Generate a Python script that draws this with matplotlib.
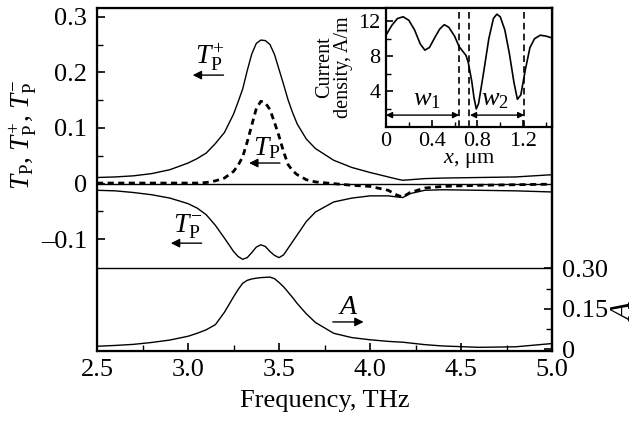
import matplotlib
matplotlib.use("Agg")
import matplotlib.pyplot as plt
from matplotlib.ticker import FixedLocator

plt.rcParams["font.family"] = ["Liberation Serif", "DejaVu Serif"]
plt.rcParams["mathtext.fontset"] = "custom"
plt.rcParams["mathtext.rm"] = "Liberation Serif"
plt.rcParams["mathtext.it"] = "Liberation Serif:italic"
plt.rcParams["font.size"] = 19

# main panel: frequency in THz
freq = [2.5, 2.6, 2.7, 2.8, 2.9, 3.0, 3.05, 3.1, 3.15, 3.2, 3.25, 3.275,
        3.3, 3.325, 3.35, 3.375, 3.4, 3.425, 3.45, 3.475, 3.5, 3.525, 3.55,
        3.575, 3.6, 3.65, 3.7, 3.8, 3.9, 4.0, 4.1, 4.15, 4.18, 4.22, 4.3,
        4.4, 4.6, 4.8, 5.0]
t_plus = [0.011, 0.012, 0.014, 0.018, 0.025, 0.037, 0.045, 0.055, 0.072,
          0.092, 0.125, 0.147, 0.170, 0.203, 0.233, 0.252, 0.258, 0.257,
          0.250, 0.232, 0.205, 0.178, 0.150, 0.127, 0.107, 0.080, 0.063,
          0.042, 0.029, 0.020, 0.012, 0.008, 0.006, 0.007, 0.009, 0.010,
          0.011, 0.012, 0.016]
t_p = [0.001, 0.001, 0.001, 0.001, 0.001, 0.001, 0.001, 0.002, 0.005, 0.010,
       0.022, 0.033, 0.048, 0.075, 0.105, 0.135, 0.148, 0.145, 0.133, 0.110,
       0.085, 0.057, 0.034, 0.023, 0.016, 0.007, 0.003, 0.000, -0.003,
       -0.005, -0.012, -0.021, -0.024, -0.016, -0.008, -0.005, -0.003,
       -0.002, -0.001]
t_minus = [-0.012, -0.013, -0.016, -0.020, -0.026, -0.036, -0.044, -0.056,
           -0.075, -0.098, -0.122, -0.131, -0.136, -0.133, -0.124, -0.114,
           -0.110, -0.113, -0.122, -0.129, -0.133, -0.128, -0.116, -0.104,
           -0.092, -0.068, -0.051, -0.033, -0.026, -0.022, -0.022, -0.024,
           -0.025, -0.018, -0.012, -0.011, -0.012, -0.013, -0.015]
absorb = [0.012, 0.015, 0.019, 0.026, 0.035, 0.049, 0.060, 0.073, 0.092,
          0.138, 0.195, 0.222, 0.245, 0.256, 0.261, 0.264, 0.266, 0.267,
          0.268, 0.262, 0.248, 0.232, 0.212, 0.192, 0.170, 0.132, 0.100,
          0.060, 0.044, 0.036, 0.030, 0.028, 0.027, 0.024, 0.018, 0.013,
          0.008, 0.010, 0.022]

# inset: current density along x
x_um = [0.0, 0.05, 0.10, 0.15, 0.20, 0.25, 0.30, 0.34, 0.38, 0.43, 0.47,
        0.51, 0.55, 0.60, 0.64, 0.67, 0.70, 0.72, 0.75, 0.77, 0.79, 0.81,
        0.85, 0.90, 0.94, 0.97, 1.00, 1.04, 1.08, 1.12, 1.15, 1.18, 1.22,
        1.26, 1.30, 1.35, 1.40, 1.45]
current = [10.4, 11.5, 12.3, 12.5, 12.1, 11.0, 9.4, 8.7, 9.0, 10.2, 11.1,
           11.6, 11.3, 10.3, 9.1, 8.6, 8.1, 7.3, 5.2, 3.3, 2.0, 2.6, 5.8,
           10.0, 12.3, 12.8, 12.5, 11.0, 8.3, 5.0, 3.1, 3.6, 6.5, 9.0, 10.0,
           10.4, 10.3, 10.1]
w_bounds = [0.64, 0.727, 1.21]

fig = plt.figure(figsize=(6.43, 4.21), dpi=100)
ax = fig.add_axes([0.151, 0.166, 0.7075, 0.815])

ax.plot(freq, t_plus, color="k", lw=1.0)
ax.plot(freq, t_p, color="k", lw=2.0, dashes=(2.2, 1.6))
ax.plot(freq, t_minus, color="k", lw=1.0)
ax.axhline(0, color="k", lw=1.0)
ax.axhline(-0.152, color="k", lw=1.0)

ax.set_xlim(2.5, 5.0)
ax.set_ylim(-0.301, 0.3156)
ax.set_xticks([2.5, 3.0, 3.5, 4.0, 4.5, 5.0])
ax.set_xticklabels(["2.5", "3.0", "3.5", "4.0", "4.5", "5.0"])
ax.xaxis.set_minor_locator(FixedLocator([2.75, 3.25, 3.75, 4.25, 4.75]))
ax.set_yticks([-0.1, 0, 0.1, 0.2, 0.3])
ax.set_yticklabels(["\u20130.1", "0", "0.1", "0.2", "0.3"])
ax.yaxis.set_minor_locator(FixedLocator([-0.05, 0.05, 0.15, 0.25]))
ax.tick_params(which="both", direction="in", top=False, right=False)
ax.tick_params(which="major", length=6, width=1.2)
ax.tick_params(which="minor", length=4, width=1.0)
ax.tick_params(axis="x", which="major", pad=6)
ax.tick_params(axis="y", which="major", pad=7)
for s in ax.spines.values():
    s.set_linewidth(1.6)
ax.set_xlabel("Frequency, THz", labelpad=6)
ax.set_ylabel(r"$T_{\rm P}$, $T_{\rm P}^{+}$, $T_{\rm P}^{-}$", fontsize=19.5)
ax.yaxis.set_label_coords(-0.128, 0.63)

ax2 = ax.twinx()
ax2.plot(freq, absorb, color="k", lw=1.0)
ax2.set_ylim(-0.006, 1.264)
ax2.set_yticks([0, 0.15, 0.30])
ax2.set_yticklabels(["0", "0.15", "0.30"])
ax2.yaxis.set_minor_locator(FixedLocator([0.075, 0.225]))
ax2.tick_params(which="both", direction="in", pad=7)
ax2.tick_params(which="major", length=6, width=1.2)
ax2.tick_params(which="minor", length=4, width=1.0)
ax2.spines["right"].set_linewidth(1.6)
ax2.set_ylabel(r"$A$", rotation=90, fontsize=21)
ax2.yaxis.set_label_coords(1.127, 0.12)

arrow = dict(arrowstyle="-|>", color="k", lw=1.0, mutation_scale=13)
ax.annotate("", xy=(3.01, 0.195), xytext=(3.21, 0.195), arrowprops=arrow)
ax.text(3.12, 0.199, r"$T_{\rm P}^{+}$", ha="center", va="bottom", fontsize=20)
ax.annotate("", xy=(3.32, 0.037), xytext=(3.52, 0.037), arrowprops=arrow)
ax.text(3.43, 0.041, r"$T_{\rm P}$", ha="center", va="bottom", fontsize=20)
ax.annotate("", xy=(2.89, -0.107), xytext=(3.09, -0.107), arrowprops=arrow)
ax.text(3.0, -0.103, r"$T_{\rm P}^{-}$", ha="center", va="bottom", fontsize=20)
ax2.annotate("", xy=(3.98, 0.102), xytext=(3.78, 0.102), arrowprops=arrow)
ax2.text(3.88, 0.108, r"$A$", ha="center", va="bottom", fontsize=20)

ins = fig.add_axes([0.6003, 0.6995, 0.2582, 0.2815])
ins.set_facecolor("white")
ins.plot(x_um, current, color="k", lw=1.2)
for xb in w_bounds:
    ins.axvline(xb, color="k", lw=1.2, dashes=(4, 2.5))
both = dict(arrowstyle="<|-|>", color="k", lw=1.0, mutation_scale=9,
            shrinkA=0, shrinkB=0)
ins.annotate("", xy=(0.0, 1.3), xytext=(w_bounds[0], 1.3), arrowprops=both)
ins.annotate("", xy=(0.735, 1.3), xytext=(w_bounds[2], 1.3), arrowprops=both)
ins.text(0.36, 1.8, r"$w_1$", ha="center", va="bottom", fontsize=19)
ins.text(0.95, 1.8, r"$w_2$", ha="center", va="bottom", fontsize=19)
ins.set_xlim(0, 1.453)
ins.set_ylim(0, 13.5)
ins.set_xticks([0, 0.4, 0.8, 1.2])
ins.set_xticklabels(["0", "0.4", "0.8", "1.2"])
ins.xaxis.set_minor_locator(FixedLocator([0.2, 0.6, 1.0, 1.4]))
ins.set_yticks([4, 8, 12])
ins.yaxis.set_minor_locator(FixedLocator([2, 6, 10]))
ins.tick_params(which="both", direction="in", pad=4, labelsize=16)
ins.tick_params(which="major", length=5, width=1.2)
ins.tick_params(which="minor", length=3.5, width=1.0)
for s in ins.spines.values():
    s.set_linewidth(1.6)
ins.set_xlabel("$x$, \u03bcm", labelpad=0, fontsize=16)
ins.set_ylabel("Current\ndensity, A/m", labelpad=4, linespacing=0.95,
               fontsize=14.5)

fig.savefig("out.png", dpi=100)
